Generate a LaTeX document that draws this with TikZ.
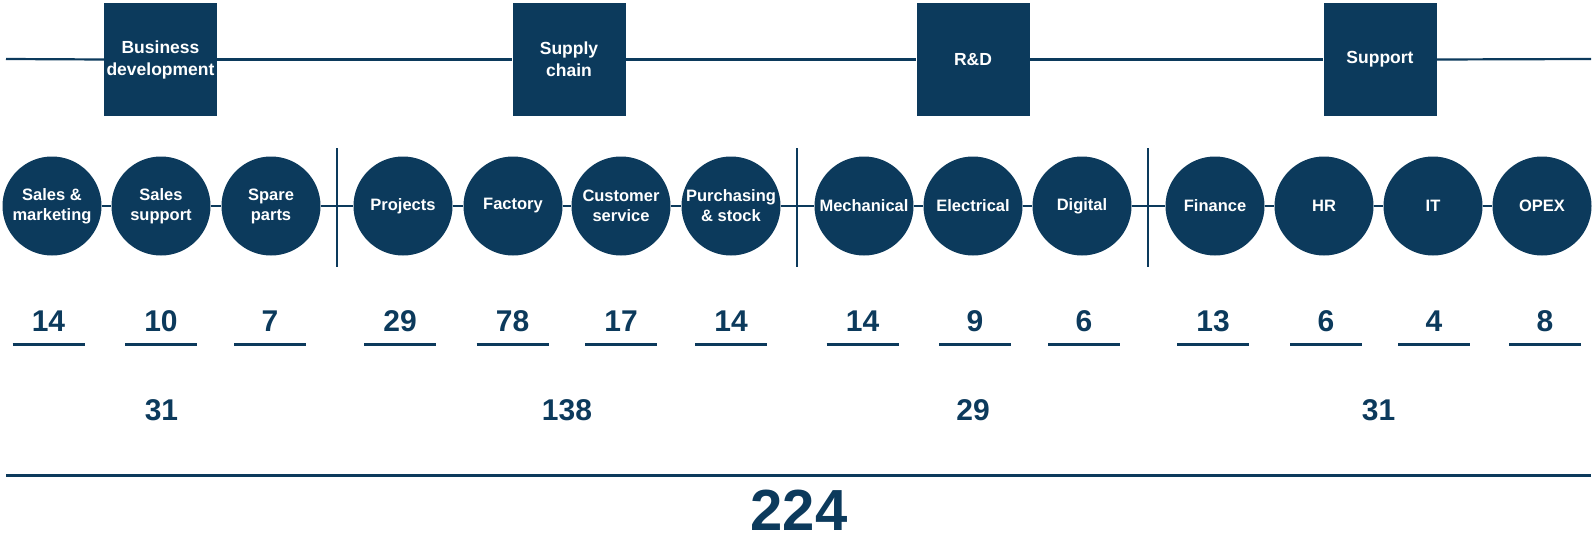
\documentclass[tikz,border=0pt]{standalone}
\usepackage{fontspec}
\setmainfont{Liberation Sans}
\definecolor{navy}{HTML}{0C3A5C}
\begin{document}
\begin{tikzpicture}[x=1pt,y=-1pt,
  unit/.style={circle,fill=navy,draw=none,minimum size=99pt,inner sep=0pt,text=white,align=center,font=\bfseries\fontsize{16.5}{20}\selectfont},
  head/.style={rectangle,fill=navy,draw=none,minimum width=113pt,minimum height=113pt,inner sep=0pt,text=white,align=center,font=\bfseries\fontsize{17.5}{22}\selectfont},
  num/.style={text=navy,font=\bfseries\fontsize{30}{36}\selectfont,inner sep=0pt},
  big/.style={text=navy,font=\bfseries\fontsize{58}{68}\selectfont,inner sep=0pt},
  thin/.style={draw=navy,line width=2.2pt},
  thick/.style={draw=navy,line width=3pt}]
\useasboundingbox (0,0) rectangle (1595,543);

% top line and group boxes
\coordinate (tl) at (6,59);
\coordinate (tr) at (1591,59);
\node[head] (b1) at (160.5,59.5) {Business\\development};
\node[head] (b2) at (569,59.5) {Supply\\chain};
\node[head] (b3) at (973,59.5) {R\&D};
\node[head] (b4) at (1380,59.5) {Support};
\draw[thin] (tl) -- (b1.west);
\draw[thin] (b1.east) -- (b2.west);
\draw[thin] (b2.east) -- (b3.west);
\draw[thin] (b3.east) -- (b4.west);
\draw[thin] (b4.east) -- (tr);

% separators
\foreach \i/\x in {1/337,2/797,3/1148}{
  \coordinate (s\i a) at (\x,148);
  \coordinate (s\i b) at (\x,267);
  \draw[draw=navy,line width=2.5pt] (s\i a) -- (s\i b);
}

% units
\node[unit] (c1) at (52,206) {Sales \&\\marketing};
\node[unit] (c2) at (161,206) {Sales\\support};
\node[unit] (c3) at (271,206) {Spare\\parts};
\node[unit] (c4) at (403,206) {Projects};
\node[unit] (c5) at (513,206) {Factory};
\node[unit] (c6) at (621,206) {Customer\\service};
\node[unit] (c7) at (731,206) {Purchasing\\\& stock};
\node[unit] (c8) at (864,206) {Mechanical};
\node[unit] (c9) at (973,206) {Electrical};
\node[unit] (c10) at (1082,206) {Digital};
\node[unit] (c11) at (1215,206) {Finance};
\node[unit] (c12) at (1324,206) {HR};
\node[unit] (c13) at (1433,206) {IT};
\node[unit] (c14) at (1542,206) {OPEX};
\foreach \a/\b in {1/2,2/3,3/4,4/5,5/6,6/7,7/8,8/9,9/10,10/11,11/12,12/13,13/14}{
  \draw[thin] (c\a.east) -- (c\b.west);
}

% unit counts with underlines
\foreach \i/\x/\v in {1/48.5/14,2/161/10,3/270/7,4/400/29,5/512.5/78,6/621/17,7/731/14,8/862.5/14,9/975/9,10/1084/6,11/1213/13,12/1326/6,13/1434/4,14/1545/8}{
  \node[num] (n\i) at (\x,321) {\v};
  \draw[thick] (\x-36,344) -- (\x+36,344);
}

% group totals
\node[num] (g1) at (161.5,410) {31};
\node[num] (g2) at (567,410) {138};
\node[num] (g3) at (973,410) {29};
\node[num] (g4) at (1378.5,410) {31};

% total
\coordinate (bl) at (6,475);
\coordinate (br) at (1591,475);
\draw[thick] (bl) -- (br);
\node[big] (tot) at (799,510) {224};
\end{tikzpicture}
\end{document}
